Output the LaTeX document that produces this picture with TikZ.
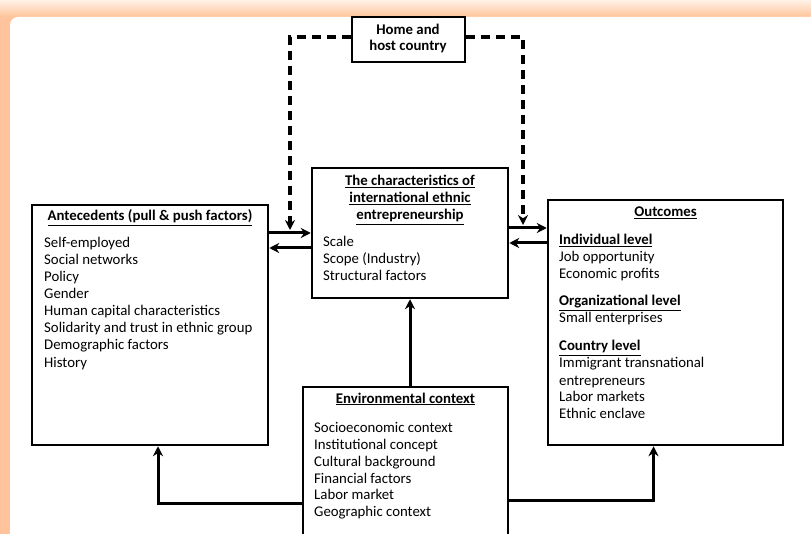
\documentclass[tikz,border=0pt]{standalone}
\usepackage{fontspec}
\setmainfont{Carlito}
\usetikzlibrary{arrows.meta}
\definecolor{framepeach}{HTML}{FFC49B}
\definecolor{framelight}{HTML}{FFF1E6}

\begin{document}
\begin{tikzpicture}[x=1pt, y=-1pt,
		box/.style={draw, line width=2.5pt, fill=white, inner sep=0pt},
		txt/.style={inner sep=0pt, anchor=base west, font=\fontsize{14.8}{17}\selectfont},
		head/.style={inner sep=0pt, anchor=base, font=\bfseries\fontsize{14.8}{17}\selectfont},
		arr/.style={line width=3pt, -{Stealth[length=10pt,width=10pt]}},
		dasharr/.style={line width=3.2pt, dash pattern=on 9pt off 6pt, -{Stealth[length=10pt,width=10pt]}}]
				\useasboundingbox (0,0) rectangle (811,534);
				\clip (0,0) rectangle (811,534);
				% frame
				\fill[framepeach] (0,0) rectangle (811,534);
				\shade[top color=framelight, bottom color=framepeach] (0,0) rectangle (811,17);
				\fill[white, rounded corners=8pt] (10,17) rectangle (840,560);
				% boxes
				\node[box, minimum width=113pt, minimum height=45pt] (home) at (408.5,39.5) {};
				\node[box, minimum width=196pt, minimum height=130pt] (char) at (410,233) {};
				\node[box, minimum width=236pt, minimum height=240pt] (ante) at (150,325) {};
				\node[box, minimum width=235pt, minimum height=245pt] (outc) at (665.5,322.5) {};
				\node[box, minimum width=205pt, minimum height=163pt] (env) at (405.5,468.5) {};
				% home and host country
				\node[head] (home1) at (408,35) {Home and};
				\node[head] (home2) at (408,51) {host country};
				% characteristics
				\node[head] (char1) at (410,186) {\underline{The characteristics of}};
				\node[head] (char2) at (410,203) {\underline{international ethnic}};
				\node[head] (char3) at (410,220) {\underline{entrepreneurship}};
				\node[txt] (c1) at (323,247) {Scale};
				\node[txt] (c2) at (323,264) {Scope (Industry)};
				\node[txt] (c3) at (323,281) {Structural factors};
				% antecedents
				\node[head] (ante1) at (150,221) {\underline{Antecedents (pull \& push factors)}};
				\node[txt] (a1) at (44,248) {Self-employed};
				\node[txt] (a2) at (44,265) {Social networks};
				\node[txt] (a3) at (44,282) {Policy};
				\node[txt] (a4) at (44,299) {Gender};
				\node[txt] (a5) at (44,316) {Human capital characteristics};
				\node[txt] (a6) at (44,333) {Solidarity and trust in ethnic group};
				\node[txt] (a7) at (44,350) {Demographic factors};
				\node[txt] (a8) at (44,367) {History};
				% outcomes
				\node[head] (outc1) at (665.5,217) {\underline{Outcomes}};
				\node[txt, font=\bfseries\fontsize{14.8}{17}\selectfont] (lev1) at (559,245) {\underline{Individual level}};
				\node[txt] (o1) at (559,262) {Job opportunity};
				\node[txt] (o2) at (559,279) {Economic profits};
				\node[txt, font=\bfseries\fontsize{14.8}{17}\selectfont] (lev2) at (559,306) {\underline{Organizational level}};
				\node[txt] (o3) at (559,323) {Small enterprises};
				\node[txt, font=\bfseries\fontsize{14.8}{17}\selectfont] (lev3) at (559,351) {\underline{Country level}};
				\node[txt] (o4) at (559,368) {Immigrant transnational};
				\node[txt] (o5) at (559,385) {entrepreneurs};
				\node[txt] (o6) at (559,401) {Labor markets};
				\node[txt] (o7) at (559,418) {Ethnic enclave};
				% environmental context
				\node[head] (env1) at (405.5,403) {\underline{Environmental context}};
				\node[txt] (e1) at (314,432) {Socioeconomic context};
				\node[txt] (e2) at (314,449) {Institutional concept};
				\node[txt] (e3) at (314,466) {Cultural background};
				\node[txt] (e4) at (314,483) {Financial factors};
				\node[txt] (e5) at (314,499) {Labor market};
				\node[txt] (e6) at (314,516) {Geographic context};
				% connectors
				\coordinate (dl) at (290,230);
				\coordinate (dr) at (523,225);
				\draw[dasharr] (home.west |- 0,37) -| (dl);
				\draw[dasharr] (home.east |- 0,37) -| (dr);
				\draw[arr] (ante.east |- 0,233) -- (char.west |- 0,233);
				\draw[arr] (char.west |- 0,248) -- (ante.east |- 0,248);
				\draw[arr] (char.east |- 0,228) -- (outc.west |- 0,228);
				\draw[arr] (outc.west |- 0,243) -- (char.east |- 0,243);
				\draw[arr] (char.south |- env.north) -- (char.south);
				\draw[arr] (env.west |- 0,503) -| ([xshift=8pt]ante.south);
				\draw[arr] (env.east |- 0,500) -| ([xshift=-12pt]outc.south);
		\end{tikzpicture}
\end{document}
